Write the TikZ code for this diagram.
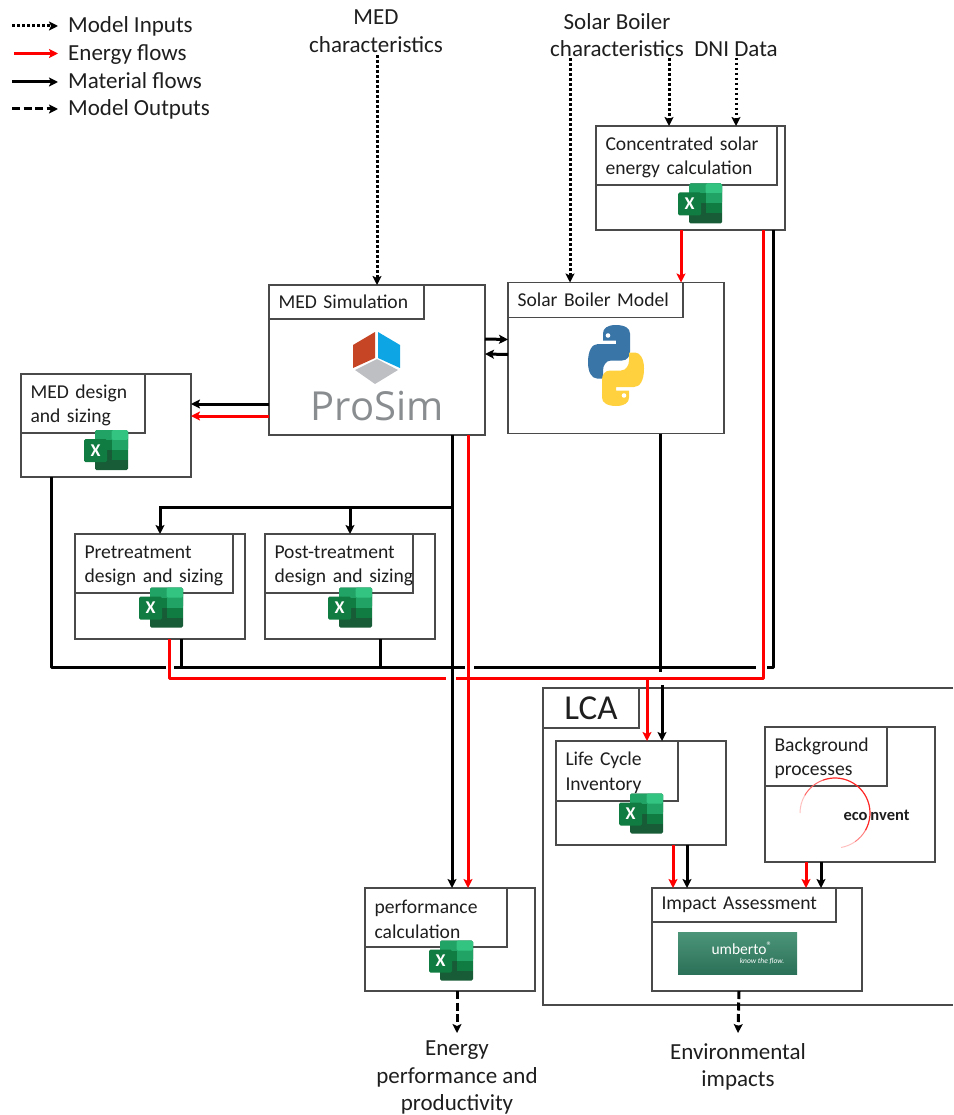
\documentclass[tikz,border=0pt]{standalone}
\usepackage{fontspec}
\setmainfont{Carlito}
\newfontfamily\logofont{Open Sans}
\usetikzlibrary{positioning, arrows.meta}

\definecolor{boxgray}{HTML}{4A4A4A}
\definecolor{textblack}{HTML}{1E1E1E}
\definecolor{xlone}{HTML}{33C481}
\definecolor{xltwo}{HTML}{21A366}
\definecolor{xlthree}{HTML}{107C41}
\definecolor{xlfour}{HTML}{185C37}
\definecolor{simred}{HTML}{C64524}
\definecolor{simblue}{HTML}{0EA5E4}
\definecolor{simgray}{HTML}{BDBFC3}
\definecolor{simtext}{HTML}{8A8D90}
\definecolor{pyblue}{HTML}{3A75A8}
\definecolor{pyyellow}{HTML}{FFD13F}
\definecolor{umbtop}{HTML}{4C9579}
\definecolor{umbbottom}{HTML}{2B7058}

\tikzset{
    excelicon/.pic={
        \fill [xlfour, rounded corners=1.5pt] (-11,-20) rectangle (22,20);
        \fill [xltwo, rounded corners=1.5pt] (-11,-20) rectangle (22,0);
        \fill [xlone, rounded corners=1.5pt] (5.5,-20) rectangle (22,-10);
        \fill [xltwo] (5.5,-10) rectangle (22,0);
        \fill [xlthree] (-11,-10) rectangle (5.5,0);
        \fill [xlthree] (5.5,0) rectangle (22,10);
        \fill [xlfour] (-11,0) rectangle (5.5,10);
        \fill [xlthree, rounded corners=1.5pt] (-22,-11) rectangle (1,12);
        \node (-x) [text=white, font=\fontsize{18}{18}\selectfont\bfseries, inner sep=0pt] at (-10.5,0.5) {X};
    },
    snakeicon/.pic={
        \path [pic actions] (0,-40.5) .. controls (-9,-40.5) and (-13,-37) .. (-13,-32) -- (-13,-25) -- (0,-25) -- (0,-21.5)
            -- (-18,-21.5) .. controls (-24,-21.5) and (-28,-15) .. (-28,-3) .. controls (-28,7) and (-24,13) .. (-19,13)
            -- (-13,13) -- (-13,5) .. controls (-13,0) and (-10,-5) .. (-5,-5) -- (6,-5) .. controls (11,-5) and (14,-9) .. (14,-14)
            -- (14,-32) .. controls (14,-37) and (9,-40.5) .. (0,-40.5) -- cycle;
        \fill [white] (-8,-30) circle [radius=2.3pt];
    }
}

\begin{document}
\begin{tikzpicture}[x=1pt, y=-1pt, >={Stealth[length=9pt,width=9pt,inset=2pt]}, part/.style 2 args={
        rectangle,
        draw=boxgray,
        line width=1.4pt,
        minimum width=#1pt,
        minimum height=#2pt,
        inner sep=0pt,
        outer sep=0pt,
        anchor=north west
    }, header/.style 2 args={
        rectangle,
        draw=boxgray,
        line width=1.2pt,
        minimum height=#2pt,
        inner xsep=1pt,
        inner ysep=0pt,
        outer sep=0pt,
        text width=#1pt-2pt,
        anchor=north west,
        text=textblack,
        font=\fontsize{19.6}{24.5}\selectfont,
        execute at begin node={\leftskip=8.5pt\rightskip=0pt plus 1fil\parindent=0pt\relax}
    }, twolines/.style={
        text height=17pt
    }, caption/.style={
        text=textblack,
        align=center,
        inner sep=0pt,
        font=\fontsize{23}{27.5}\selectfont
    }, keylabel/.style={
        text=textblack,
        anchor=west,
        inner xsep=10pt,
        inner ysep=0pt,
        text height=17pt,
        text depth=3pt,
        font=\fontsize{23}{24}\selectfont
    }, inputs/.style={
        line width=3pt, dash pattern=on 2.5pt off 2.5pt, ->
    }, energy/.style={
        line width=3pt, red, ->
    }, material/.style={
        line width=3pt, black, ->
    }, outputs/.style={
        line width=3pt, dash pattern=on 8pt off 3.5pt, ->
    }, energyline/.style={
        line width=3pt, red, line join=round
    }, materialline/.style={
        line width=3pt, black, line join=round
    }]
    \useasboundingbox (0,0) rectangle (953,1115);

    % key
    \coordinate (inkey) at (12,26);
    \coordinate (enkey) at (14,53.5);
    \coordinate (matkey) at (12,82);
    \coordinate (outkey) at (12,109);
    \node (inlabel) [keylabel] at (58,26) {Model Inputs};
    \node (enlabel) [keylabel] at (58,53.5) {Energy flows};
    \node (matlabel) [keylabel] at (58,82) {Material flows};
    \node (outlabel) [keylabel] at (58,109) {Model Outputs};
    \draw [inputs] (inkey) -- (inlabel.west);
    \draw [energy] (enkey) -- (enlabel.west);
    \draw [material] (matkey) -- (matlabel.west);
    \draw [outputs] (outkey) -- (outlabel.west);

    % boxes
    \node (sim) [part={216}{150}] at (269,285) {};
    \node (boiler) [part={216}{151}, right=23pt of sim, yshift=2pt] {};
    \node (solar) [part={189}{104}] at (596,126) {};
    \node (design) [part={170}{103}, left=78pt of sim, yshift=-65.5pt] {};
    \node (pre) [part={170}{105}] at (75,534) {};
    \node (post) [part={170}{105}, right=20pt of pre] {};
    \node (perf) [part={170}{103}] at (365,888) {};
    \node (impact) [part={210}{103}, right=117pt of perf] {};
    \node (lci) [part={170}{104}] at (556,741) {};
    \node (bg) [part={170}{135}] at (765,727) {};

    \node (simhead) [header={155}{34}] at (sim.north west) {MED Simulation};
    \node (boilerhead) [header={175}{35}] at (boiler.north west) {Solar Boiler Model};
    \node (solarhead) [header={181}{59}, twolines] at (solar.north west) {Concentrated solar\\energy calculation};
    \node (designhead) [header={124}{59}, twolines] at (design.north west) {MED design\\and sizing};
    \node (prehead) [header={158}{59}, twolines] at (pre.north west) {Pretreatment\\design and sizing};
    \node (posthead) [header={148}{59}, twolines] at (post.north west) {Post-treatment\\\mbox{design and sizing}};
    \node (perfhead) [header={142}{59}, twolines] at (perf.north west) {performance\\calculation};
    \node (impacthead) [header={184}{34}] at (impact.north west) {Impact Assessment};
    \node (lcihead) [header={122}{60}, twolines] at (lci.north west) {Life Cycle\\Inventory};
    \node (bghead) [header={122}{59}, twolines] at (bg.north west) {Background\\processes};

    % LCA frame runs off the page on the right
    \coordinate (lcatop) at (953,688);
    \coordinate (lcacorner) at (543,1005);
    \coordinate (lcabottom) at (953,1005);
    \draw [draw=boxgray, line width=1.4pt] (lcatop) -| (lcacorner) -- (lcabottom);
    \node (lcahead) [rectangle, draw=boxgray, line width=1.4pt, minimum width=96pt, minimum height=40pt, inner sep=0pt, outer sep=0pt, anchor=north west, text=textblack, font=\fontsize{35}{35}\selectfont] at (543,688) {LCA};

    % logos
    \pic (solarxl) at (700,203.5) {excelicon};
    \pic (designxl) at (106,450) {excelicon};
    \pic (prexl) at (161,607.5) {excelicon};
    \pic (postxl) at (350,607.5) {excelicon};
    \pic (perfxl) at (451,960.5) {excelicon};
    \pic (lcixl) at (641,813.5) {excelicon};

    \fill [simred] (353,345) -- (375,332) -- (375,358) -- (353,368) -- cycle;
    \fill [simblue] (378,332) -- (400,345) -- (400,368) -- (378,358) -- cycle;
    \fill [simgray] (377,359) -- (398,370) -- (375,384) -- (355,370) -- cycle;
    \node (prosim) [text=simtext, inner sep=0pt, font=\logofont\fontsize{40}{40}\selectfont] at (377,406) {ProSim};

    \pic [fill=pyblue] at (616,365.5) {snakeicon};
    \pic [fill=pyyellow, rotate=180] at (616,365.5) {snakeicon};

    \coordinate (ecohub) at (835,813);
    \draw [red!25, line width=1pt] (ecohub) ++(180:35pt) arc [start angle=180, end angle=150, radius=35pt];
    \draw [red!60, line width=1pt] (ecohub) ++(150:35pt) arc [start angle=150, end angle=110, radius=35pt];
    \draw [red!85, line width=1.2pt] (ecohub) ++(110:35pt) arc [start angle=110, end angle=-30, radius=35pt];
    \draw [red!50, line width=1pt] (ecohub) ++(-30:35pt) arc [start angle=-30, end angle=-55, radius=35pt];
    \draw [red!25, line width=1pt] (ecohub) ++(-55:35pt) arc [start angle=-55, end angle=-80, radius=35pt];
    \node (eco) [text=textblack, inner sep=0pt, font=\bfseries\fontsize{16.5}{17}\selectfont] at (876.5,815) {eco\kern3pt nvent};

    \node (umberto) [rectangle, minimum width=119pt, minimum height=42pt, inner sep=0pt, top color=umbtop, bottom color=umbbottom, anchor=north west] at (678,932) {};
    \node (umbname) [text=white, inner sep=0pt, font=\fontsize{15.5}{16}\selectfont] at (742,948) {umberto\textsuperscript{®}};
    \node (umbline) [text=white, inner sep=0pt, font=\itshape\fontsize{7.5}{8}\selectfont] at (762,961) {know the flow.};

    % model inputs
    \node (medchar) [caption] at (376,31) {MED\\characteristics};
    \node (boilerchar) [caption] at (617,35) {Solar Boiler\\characteristics};
    \node (dni) [caption] at (736,49) {DNI Data};
    \draw [inputs] ([xshift=1pt,yshift=-3pt]medchar.south) -- ([xshift=108pt]sim.north west);
    \draw [inputs] ([xshift=-47pt,yshift=-1pt]boilerchar.south) -- ([xshift=62pt]boiler.north west);
    \draw [inputs] ([xshift=52pt,yshift=-1pt]boilerchar.south) -- ([xshift=73pt]solar.north west);
    \draw [inputs] ([yshift=-1pt]dni.south) -- ([xshift=140pt]solar.north west);

    % flows between models
    \draw [energy] ([xshift=85pt]solar.south west) -- ([xshift=173pt]boiler.north west);
    \draw [material] ([yshift=-54pt]sim.north east) -- ([yshift=-57pt]boiler.north west);
    \draw [material] ([yshift=-72pt]boiler.north west) -- ([yshift=-69pt]sim.north east);
    \draw [material] ([yshift=-119pt]sim.north west) -- ([yshift=-30pt]design.north east);
    \draw [energy] ([yshift=-131pt]sim.north west) -- ([yshift=-42pt]design.north east);
    \draw [material] ([xshift=183pt]sim.south west) -- ([xshift=87pt]perf.north west);
    \draw [energy] ([xshift=199pt]sim.south west) -- ([xshift=103pt]perf.north west);

    \coordinate (split) at (452,507);
    \draw [material] (split) -| (pre.north);
    \draw [material] (split) -| (post.north);

    % collecting lines, broken where they cross
    \coordinate (busa) at (166,667);
    \coordinate (busb) at (174,667);
    \coordinate (busc) at (465,667);
    \coordinate (busd) at (474,667);
    \coordinate (buse) at (756,667);
    \coordinate (busf) at (767,667);
    \coordinate (reda) at (446,678);
    \coordinate (redb) at (456,678);
    \coordinate (redtap) at (647,678);
    \coordinate (boilerend) at (660,672);
    \coordinate (lcifeed) at (662,685);
    \draw [materialline] ([xshift=30pt]design.south west) |- (busa);
    \draw [materialline] (busb) -- (busc);
    \draw [materialline] (busd) -- (buse);
    \draw [materialline] (busf) -| ([xshift=177pt]solar.south west);
    \draw [materialline] ([xshift=106pt]pre.south west) |- (busb);
    \draw [materialline] ([xshift=115pt]post.south west) |- (busc);
    \draw [materialline] ([xshift=152pt]boiler.south west) -- (boilerend);
    \draw [energyline] ([xshift=94pt]pre.south west) |- (reda);
    \draw [energyline] (redb) -| ([xshift=167pt]solar.south west);
    \draw [energy] (redtap) -- ([xshift=91pt]lci.north west);
    \draw [material] (lcifeed) -- ([xshift=106pt]lci.north west);

    % inside LCA
    \draw [energy] ([xshift=117pt]lci.south west) -- ([xshift=21pt]impact.north west);
    \draw [material] ([xshift=131pt]lci.south west) -- ([xshift=35pt]impact.north west);
    \draw [energy] ([xshift=41pt]bg.south west) -- ([xshift=154pt]impact.north west);
    \draw [material] ([xshift=56pt]bg.south west) -- ([xshift=169pt]impact.north west);

    % model outputs
    \node (perfout) [caption, below=50pt of perf, xshift=7pt] {Energy\\performance and\\productivity};
    \node (envout) [caption, below=52pt of impact, xshift=-19pt] {Environmental\\impacts};
    \draw [outputs] ([xshift=92pt]perf.south west) -- ([yshift=8pt]perfout.north);
    \draw [outputs] ([xshift=87pt]impact.south west) -- ([yshift=10pt]envout.north);
\end{tikzpicture}
\end{document}
